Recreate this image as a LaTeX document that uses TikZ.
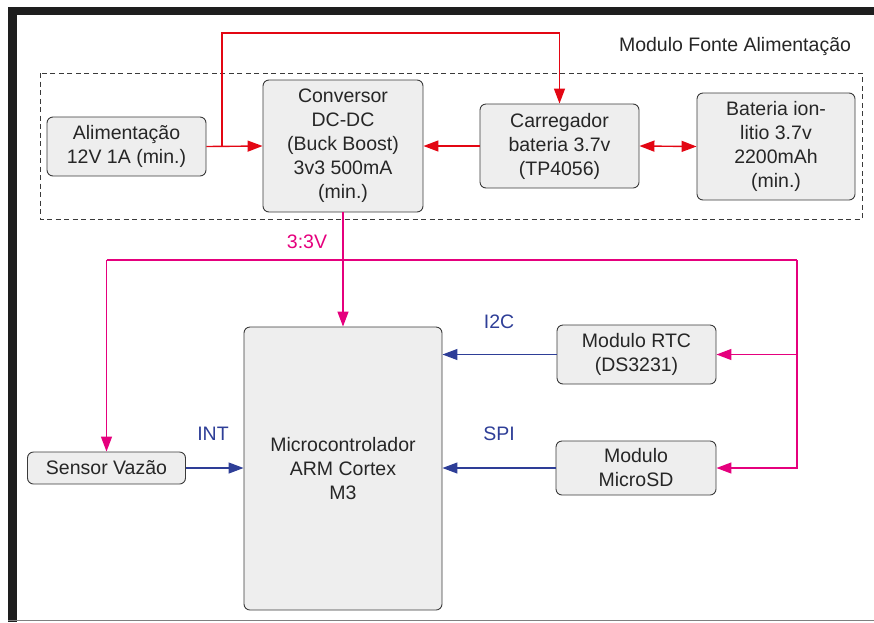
\documentclass[tikz,border=0pt]{standalone}
\usepackage{fontspec}
\setmainfont{Liberation Sans}
\usetikzlibrary{arrows.meta}
\definecolor{cred}{HTML}{E30613}
\definecolor{cmag}{HTML}{E5007D}
\definecolor{cblue}{HTML}{2E3E97}
\definecolor{boxfill}{HTML}{EEEEEE}
\definecolor{boxline}{HTML}{3A3A3A}
\definecolor{framedark}{HTML}{1E1E1E}
\begin{document}
\begin{tikzpicture}[x=1pt,y=-1pt,
  every node/.style={font=\fontsize{19.5}{24}\selectfont, text=black!85},
  blk/.style={draw=boxline, fill=boxfill, line width=0.9pt, rounded corners=6pt, align=center, inner sep=0pt},
  tip/.style={-{Triangle[length=15pt,width=11pt]}},
  redln/.style={draw=cred, line width=1.4pt},
  magln/.style={draw=cmag, line width=1.4pt},
  blueln/.style={draw=cblue, line width=1.2pt},
  lbl/.style={inner sep=0pt}
]
\useasboundingbox (0,0) rectangle (874,622);
% frame
\fill[framedark] (8,6.5) rectangle (874,15);
\fill[framedark] (8,6.5) rectangle (16.5,622);
\draw[gray, line width=1pt] (8,620.8) -- (874,620.8);
% dashed group
\draw[boxline, line width=0.9pt, dash pattern=on 5pt off 3.5pt] (40,73) rectangle (862,219);
\node[lbl] (grp) at (735,46) {Modulo Fonte Alimentação};
% boxes
\node[blk, minimum width=159pt, minimum height=59pt] (alim) at (126.5,146.5) {Alimentação\\12V 1A (min.)};
\node[blk, minimum width=160pt, minimum height=132pt] (conv) at (343,146) {Conversor\\DC-DC\\(Buck Boost)\\3v3 500mA\\(min.)};
\node[blk, minimum width=159pt, minimum height=84pt] (carr) at (559.5,146) {Carregador\\bateria 3.7v\\(TP4056)};
\node[blk, minimum width=158pt, minimum height=107pt] (bat) at (776,146.5) {Bateria ion-\\litio 3.7v\\2200mAh\\(min.)};
\node[blk, minimum width=159pt, minimum height=59pt] (rtc) at (636.5,354.5) {Modulo RTC\\(DS3231)};
\node[blk, minimum width=160pt, minimum height=54pt] (sd) at (636,468) {Modulo\\MicroSD};
\node[blk, minimum width=158pt, minimum height=32pt] (sensor) at (106.5,468) {Sensor Vazão};
\node[blk, minimum width=198pt, minimum height=283pt] (micro) at (343,468.5) {Microcontrolador\\ARM Cortex\\M3};
% labels
\node[lbl, text=cmag] (l33) at (307,242) {3:3V};
\node[lbl, text=cblue] (li2c) at (499,322) {I2C};
\node[lbl, text=cblue] (lint) at (213,434) {INT};
\node[lbl, text=cblue] (lspi) at (499,434) {SPI};
% red connectors
\coordinate (j1) at (222,146);
\coordinate (jt) at (222,33);
\draw[redln, tip] (alim.east) -- (conv.west);
\draw[redln, tip] (j1) -- (jt) -| (carr.north);
\draw[redln, tip] (carr.west) -- (conv.east);
\draw[redln, {Triangle[length=15pt,width=11pt]}-{Triangle[length=15pt,width=11pt]}] (carr.east) -- (bat.west);
% magenta connectors
\coordinate (hl) at (106.5,260);
\coordinate (hr) at (797,260);
\draw[magln] (hl) -- (hr);
\draw[magln, tip] (conv.south) -- (micro.north);
\draw[magln, tip] (hl) -- (sensor.north);
\draw[magln, tip] (hr) |- (rtc.east);
\draw[magln, tip] (hr) |- (sd.east);
% blue connectors
\draw[blueln, tip] (sensor.east) -- (micro.west |- sensor.east);
\draw[blueln, tip] (rtc.west) -- (micro.east |- rtc.west);
\draw[blueln, tip] (sd.west) -- (micro.east |- sd.west);
\end{tikzpicture}
\end{document}
